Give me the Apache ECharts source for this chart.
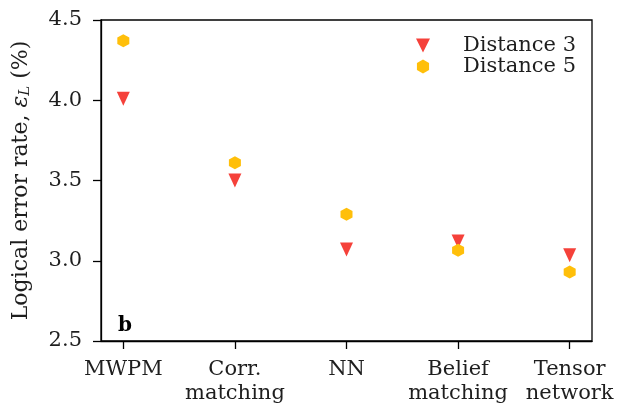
<!DOCTYPE html>
<html><head><meta charset="utf-8">
<script src="https://cdn.jsdelivr.net/npm/echarts@6/dist/echarts.min.js"></script>
<style>html,body{margin:0;padding:0;background:#fff}#c{width:617px;height:403px}</style>
</head><body><div id="c"></div>
<script>
const categories = ['MWPM', 'Corr.\nmatching', 'NN', 'Belief\nmatching', 'Tensor\nnetwork'];
const distance3 = [4.01, 3.50, 3.07, 3.12, 3.035];
const distance5 = [4.37, 3.61, 3.29, 3.065, 2.93];
const yTicks = [2.5, 3.0, 3.5, 4.0, 4.5];

const FONT = 'DejaVu Serif';
const TXT = '#1e1e1e';
const RED = '#f5413a';
const YEL = '#ffbf0a';
const HEX = 'path://M0,-1 L0.866,-0.5 L0.866,0.5 L0,1 L-0.866,0.5 L-0.866,-0.5 Z';
const TRI = 'path://M-1,-1 L1,-1 L0,1 Z';

const chart = echarts.init(document.getElementById('c'), null, {renderer: 'canvas'});
chart.setOption({
  animation: false,
  grid: {left: 101, right: 25, top: 20, bottom: 62, show: true, borderColor: '#000', borderWidth: 1.3,
         backgroundColor: 'transparent', containLabel: false, outerBoundsMode: 'none'},
  xAxis: {
    type: 'value', min: -0.2, max: 4.2,
    splitLine: {show: false},
    axisLine: {show: true, onZero: false, lineStyle: {color: '#000', width: 1.3}},
    axisTick: {show: true, length: 8, lineStyle: {color: '#000', width: 1.3}, customValues: categories.map((c, i) => i)},
    axisLabel: {
      customValues: categories.map((c, i) => i),
      formatter: v => categories[Math.round(v)],
      color: TXT, fontFamily: FONT, fontSize: 21, lineHeight: 24, margin: 17
    }
  },
  yAxis: {
    type: 'value', min: yTicks[0], max: yTicks[yTicks.length - 1], interval: 0.5,
    splitLine: {show: false},
    axisLine: {show: true, onZero: false, lineStyle: {color: '#000', width: 1.3}},
    axisTick: {show: true, length: 8, lineStyle: {color: '#000', width: 1.3}},
    axisLabel: {formatter: v => v.toFixed(1), color: TXT, fontFamily: FONT, fontSize: 21, margin: 19},
    name: 'Logical error rate, {e|ε}{s|L} (%)',
    nameLocation: 'middle', nameRotate: 90, nameGap: 68,
    nameTextStyle: {
      color: TXT, fontFamily: FONT, fontSize: 22,
      rich: {
        e: {fontFamily: FONT, fontStyle: 'italic', fontSize: 22, color: TXT},
        s: {fontFamily: FONT, fontStyle: 'italic', fontSize: 15, color: TXT, padding: [9, 0, 0, 0]}
      }
    }
  },
  legend: {
    orient: 'vertical', left: 411, top: 30, itemGap: 0,
    itemWidth: 14, itemHeight: 14,
    textStyle: {fontFamily: FONT, fontSize: 21, color: TXT, padding: [0, 0, 0, 28], lineHeight: 21},
    data: [{name: 'Distance 3', icon: TRI}, {name: 'Distance 5', icon: HEX}]
  },
  series: [
    {name: 'Distance 3', type: 'scatter', symbol: TRI, symbolSize: [13, 14], itemStyle: {color: RED, opacity: 1},
     data: distance3.map((v, i) => [i, v]), z: 2},
    {name: 'Distance 5', type: 'scatter', symbol: HEX, symbolSize: [12, 13], itemStyle: {color: YEL, opacity: 1},
     data: distance5.map((v, i) => [i, v]), z: 3}
  ],
  graphic: [{type: 'text', left: 118, top: 316, style: {text: 'b', font: 'bold 20px "DejaVu Serif"', fill: '#000'}}]
});
</script></body></html>
